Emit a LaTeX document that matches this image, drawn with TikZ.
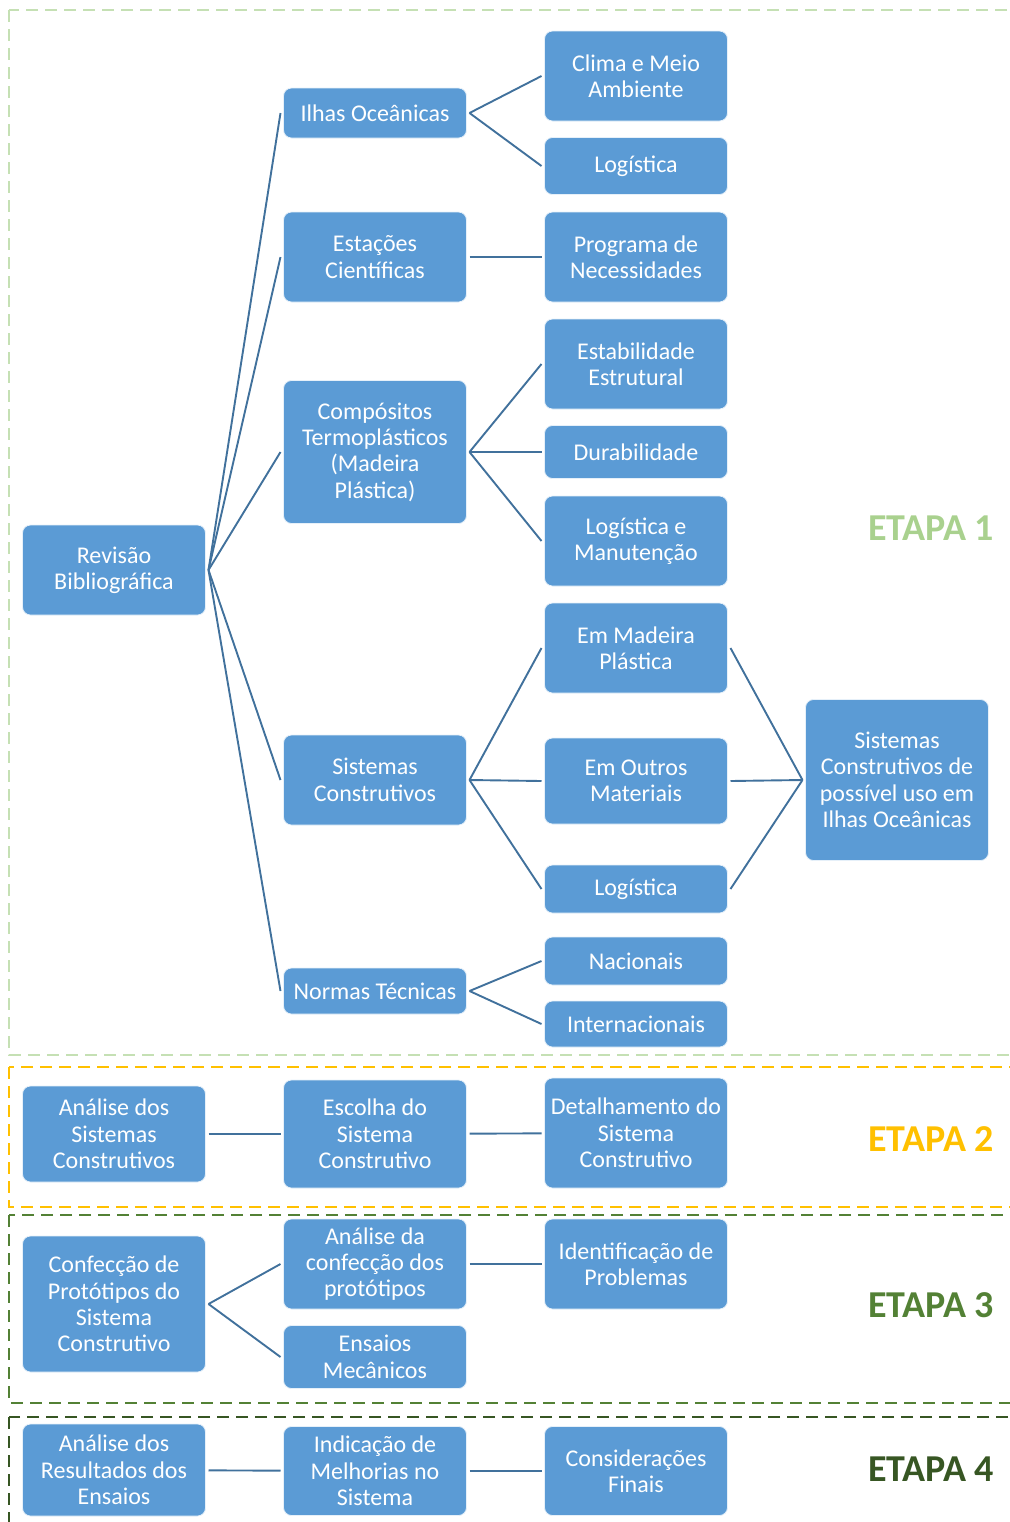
\documentclass[tikz,border=0pt]{standalone}
\usepackage{fontspec}
\setmainfont{Carlito}
\definecolor{boxblue}{RGB}{91,155,213}
\definecolor{lineblue}{RGB}{65,113,156}
\definecolor{etapaA}{RGB}{169,209,142}
\definecolor{frameA}{RGB}{197,224,180}
\definecolor{etapaB}{RGB}{255,192,0}
\definecolor{etapaC}{RGB}{83,129,53}
\definecolor{etapaD}{RGB}{55,86,35}
\usetikzlibrary{positioning}

\begin{document}
\begin{tikzpicture}[
  x=0.5pt, y=-0.5pt,
  blk/.style={draw=white!85!boxblue, line width=0.4pt, fill=boxblue, text=white, rounded corners=4pt, minimum width=91.5pt, align=center, inner sep=1pt, outer sep=1.5pt, font=\fontsize{12}{13.2}\selectfont},
  link/.style={draw=lineblue, line width=0.95pt},
  frm/.style={dashed, dash pattern=on 6pt off 3.5pt, line width=1.1pt},
  etapa/.style={font=\fontsize{19}{21}\selectfont\bfseries},
]
  \useasboundingbox (0,0) rectangle (1010,1522);
  \clip (0,0) rectangle (1010,1522);

  \draw[frm, frameA] (9,10) rectangle (1040,1055);
  \draw[frm, etapaB] (9,1067) rectangle (1040,1207);
  \draw[frm, etapaC] (9,1215) rectangle (1040,1403);
  \draw[frm, etapaD] (9,1417) rectangle (1040,1560);

  \node[blk, minimum height=45pt] (rev) at (114,570) {Revisão\\Bibliográfica};

  \node[blk, minimum height=25pt] (ilhas) at (375,113) {Ilhas Oceânicas};
  \node[blk, minimum height=45pt] (estac) at (375,257) {Estações\\Científicas};
  \node[blk, minimum height=71.5pt] (comp) at (375,452) {Compósitos\\Termoplásticos\\(Madeira\\Plástica)};
  \node[blk, minimum height=45pt] (sist) at (375,780) {Sistemas\\Construtivos};
  \node[blk, minimum height=23pt] (normas) at (375,991) {Normas Técnicas};

  \node[blk, minimum height=45pt] (clima) at (636,76) {Clima e Meio\\Ambiente};
  \node[blk, minimum height=28.5pt] (logA) at (636,166) {Logística};
  \node[blk, minimum height=45pt] (prog) at (636,257) {Programa de\\Necessidades};
  \node[blk, minimum height=45pt] (estab) at (636,364) {Estabilidade\\Estrutural};
  \node[blk, minimum height=26.5pt] (durab) at (636,452) {Durabilidade};
  \node[blk, minimum height=45pt] (logman) at (636,541) {Logística e\\Manutenção};
  \node[blk, minimum height=45pt] (madeira) at (636,648) {Em Madeira\\Plástica};
  \node[blk, minimum height=43pt] (outros) at (636,781) {Em Outros\\Materiais};
  \node[blk, minimum height=24pt] (logB) at (636,889) {Logística};
  \node[blk, minimum height=24pt] (nac) at (636,961) {Nacionais};
  \node[blk, minimum height=23pt] (intl) at (636,1024) {Internacionais};

  \node[blk, minimum height=80.5pt] (sco) at (897,780) {Sistemas\\Construtivos de\\possível uso em\\Ilhas Oceânicas};

  \node[blk, minimum height=48pt] (anal) at (114,1134) {Análise dos\\Sistemas\\Construtivos};
  \node[blk, minimum height=54pt] (escolha) at (375,1134) {Escolha do\\Sistema\\Construtivo};
  \node[blk, minimum height=55pt] (detal) at (636,1133) {Detalhamento do\\Sistema\\Construtivo};

  \node[blk, minimum height=68pt] (confec) at (114,1304) {Confecção de\\Protótipos do\\Sistema\\Construtivo};
  \node[blk, minimum height=45pt] (analproto) at (375,1264) {Análise da\\confecção dos\\protótipos};
  \node[blk, minimum height=31.5pt] (ensaios) at (375,1357) {Ensaios\\Mecânicos};
  \node[blk, minimum height=45pt] (ident) at (636,1264) {Identificação de\\Problemas};

  \node[blk, minimum height=46pt] (analres) at (114,1470) {Análise dos\\Resultados dos\\Ensaios};
  \node[blk, minimum height=44.5pt] (indic) at (375,1471) {Indicação de\\Melhorias no\\Sistema};
  \node[blk, minimum height=44.5pt] (consid) at (636,1471) {Considerações\\Finais};

  \node[etapa, etapaA] (etA) at (931,528) {ETAPA 1};
  \node[etapa, etapaB] (etB) at (931,1139) {ETAPA 2};
  \node[etapa, etapaC] (etC) at (931,1305) {ETAPA 3};
  \node[etapa, etapaD] (etD) at (931,1469) {ETAPA 4};

  \foreach \n in {ilhas, estac, comp, sist, normas}
    \draw[link] (rev.east) -- (\n.west);
  \foreach \n in {clima, logA}
    \draw[link] (ilhas.east) -- (\n.west);
  \draw[link] (estac.east) -- (prog.west);
  \foreach \n in {estab, durab, logman}
    \draw[link] (comp.east) -- (\n.west);
  \foreach \n in {madeira, outros, logB}
    \draw[link] (sist.east) -- (\n.west);
  \foreach \n in {nac, intl}
    \draw[link] (normas.east) -- (\n.west);
  \foreach \n in {madeira, outros, logB}
    \draw[link] (\n.east) -- (sco.west);

  \draw[link] (anal) -- (escolha);
  \draw[link] (escolha) -- (detal);
  \draw[link] (confec.east) -- (analproto.west);
  \draw[link] (confec.east) -- (ensaios.west);
  \draw[link] (analproto) -- (ident);
  \draw[link] (analres) -- (indic);
  \draw[link] (indic) -- (consid);
\end{tikzpicture}
\end{document}
